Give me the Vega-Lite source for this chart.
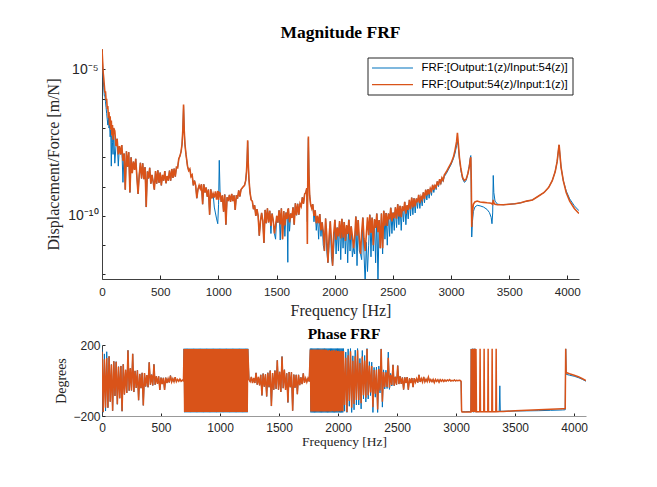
{
"$schema":"https://vega.github.io/schema/vega-lite/v6.json",
"background":"white",
"padding":{"left":45,"top":23,"right":5,"bottom":5},
"config":{"view":{"stroke":null},"axis":{"grid":false,"labelFlush":false,"labelOverlap":false}},
"resolve":{"scale":{"color":"independent"},"legend":{"color":"independent"}},
"spacing":7,
"datasets":{
"mag":[
{"f":0,"o":5e-5,"b":4e-5},{"f":5,"o":2e-5,"b":1.6e-5},{"f":10,"o":7.9e-6,"b":5e-6},{"f":15,"o":5e-6,"b":2.5e-6},{"f":20,"o":2.8e-6,"b":1.26e-6},{"f":25,"o":1.6e-6,"b":1.26e-6},{"f":30,"o":1.8e-6,"b":7.9e-7},{"f":35,"o":8.9e-7,"b":5e-7},{"f":40,"o":1e-6,"b":3.2e-7},{"f":45,"o":4.5e-7,"b":2e-7},{"f":50,"o":5.6e-7,"b":1.26e-7},{"f":55,"o":2.2e-7,"b":2.2e-7},{"f":60,"o":3.5e-7,"b":1e-7},{"f":65,"o":1.26e-7,"b":1.26e-7},{"f":70,"o":2.5e-7,"b":5e-8},{"f":75,"o":8.9e-8,"b":8.9e-8},{"f":80,"o":1.8e-7,"b":5e-9},{"f":85,"o":5.6e-8,"b":5.6e-8},{"f":90,"o":1.26e-7,"b":3.2e-8},{"f":95,"o":4e-8,"b":1.26e-8},{"f":100,"o":1e-7,"b":1e-7},
{"f":110,"o":7.9e-8,"b":6.3e-9},{"f":120,"o":2.4e-8,"b":2.4e-8},{"f":130,"o":4.3e-8,"b":4.3e-8},{"f":140,"o":1.26e-8,"b":5e-9},{"f":150,"o":2.4e-8,"b":2.4e-8},{"f":160,"o":1.26e-8,"b":1.26e-8},{"f":170,"o":2.6e-8,"b":2.6e-8},{"f":180,"o":7.6e-9,"b":1.4e-9},{"f":190,"o":1.35e-8,"b":1.35e-8},{"f":200,"o":7.9e-10,"b":7.9e-10},
{"f":210,"o":1.6e-8,"b":1.6e-8},{"f":220,"o":4.8e-9,"b":4.8e-9},{"f":230,"o":1.5e-8,"b":1.5e-8},{"f":240,"o":6.3e-10,"b":6.3e-10},{"f":250,"o":1e-8,"b":1e-8},{"f":260,"o":2.9e-9,"b":2.9e-9},{"f":270,"o":7.1e-9,"b":7.1e-9},{"f":280,"o":3.7e-9,"b":3.7e-9},{"f":290,"o":8.9e-9,"b":8.9e-9},{"f":300,"o":2.1e-9,"b":2.1e-9},
{"f":310,"o":5.6e-10,"b":5.6e-10},{"f":320,"o":2.5e-9,"b":2.5e-9},{"f":330,"o":6.5e-9,"b":6.5e-9},{"f":340,"o":1.9e-9,"b":1.9e-9},{"f":350,"o":6.3e-9,"b":6.3e-9},{"f":360,"o":1.8e-9,"b":1.8e-9},{"f":370,"o":4.6e-9,"b":4.6e-9},{"f":380,"o":2e-10,"b":2e-10},{"f":390,"o":3.3e-9,"b":3.3e-9},{"f":400,"o":1.9e-9,"b":1.9e-9},
{"f":410,"o":4.4e-9,"b":4.4e-9},{"f":420,"o":1.26e-9,"b":1.26e-9},{"f":430,"o":2.5e-9,"b":2.5e-9},{"f":440,"o":1.45e-9,"b":1.45e-9},{"f":450,"o":7.9e-10,"b":7.9e-10},{"f":460,"o":3.4e-9,"b":3.4e-9},{"f":470,"o":1.26e-9,"b":1.26e-9},{"f":480,"o":3.6e-9,"b":3.6e-9},{"f":490,"o":1.35e-9,"b":1.35e-9},{"f":500,"o":3e-9,"b":3e-9},
{"f":510,"o":1.1e-9,"b":1.1e-9},{"f":520,"o":2.5e-9,"b":2.5e-9},{"f":530,"o":1.6e-9,"b":1.6e-9},{"f":540,"o":3.4e-9,"b":3.4e-9},{"f":550,"o":1.3e-9,"b":1.3e-9},{"f":560,"o":2.3e-9,"b":2.3e-9},{"f":570,"o":1.6e-9,"b":1.6e-9},{"f":580,"o":3.5e-9,"b":3.5e-9},{"f":590,"o":1.6e-9,"b":1.6e-9},{"f":600,"o":4e-9,"b":4e-9},
{"f":610,"o":2e-9,"b":2e-9},{"f":620,"o":4.1e-9,"b":4.1e-9},{"f":630,"o":2.2e-9,"b":2.2e-9},{"f":640,"o":4.6e-9,"b":4.6e-9},{"f":650,"o":4.4e-9,"b":4.4e-9},{"f":660,"o":8.9e-9,"b":8.9e-9},{"f":670,"o":1.1e-8,"b":1.1e-8},{"f":680,"o":1.6e-8,"b":1.6e-8},{"f":688,"o":2.8e-8,"b":2.8e-8},{"f":695,"o":8.9e-8,"b":8.9e-8},{"f":701,"o":6.3e-7,"b":5.6e-7},{"f":707,"o":7.9e-8,"b":7.9e-8},{"f":713,"o":2.8e-8,"b":2.8e-8},{"f":722,"o":1.26e-8,"b":1.26e-8},{"f":735,"o":5e-9,"b":5e-9},{"f":745,"o":3.5e-9,"b":3.5e-9},
{"f":755,"o":4e-9,"b":4e-9},{"f":765,"o":2.2e-9,"b":2.2e-9},{"f":775,"o":2.5e-9,"b":2.5e-9},{"f":785,"o":1.1e-9,"b":1.1e-9},{"f":795,"o":1.6e-9,"b":1.6e-9},{"f":805,"o":1.1e-9,"b":1.1e-9},{"f":815,"o":4e-10,"b":4e-10},{"f":825,"o":8.1e-10,"b":8.1e-10},{"f":835,"o":1.1e-9,"b":1.1e-9},{"f":845,"o":8.5e-10,"b":8.5e-10},
{"f":855,"o":1.2e-9,"b":1.2e-9},{"f":865,"o":2.5e-10,"b":2.5e-10},{"f":875,"o":1.2e-9,"b":1.2e-9},{"f":885,"o":6.3e-10,"b":6.3e-10},{"f":895,"o":9.3e-10,"b":9.3e-10},{"f":905,"o":4.5e-10,"b":4.5e-10},{"f":915,"o":7.9e-10,"b":7.9e-10},{"f":925,"o":1.1e-10,"b":1.1e-10},{"f":935,"o":8.1e-10,"b":8.1e-10},{"f":945,"o":4e-10,"b":4e-10},
{"f":955,"o":5.8e-10,"b":5.8e-10},{"f":965,"o":4.2e-10,"b":2e-10},{"f":975,"o":6.9e-10,"b":1.26e-10},{"f":985,"o":3.6e-10,"b":7.9e-11},{"f":995,"o":7.1e-10,"b":5.4e-11},{"f":1002,"o":3.5e-10,"b":2.5e-10},{"f":1008,"o":6.3e-10,"b":7.9e-9},{"f":1015,"o":6e-10,"b":6e-10},{"f":1025,"o":3e-10,"b":3e-10},{"f":1035,"o":5e-10,"b":5e-10},
{"f":1045,"o":1.4e-10,"b":1.4e-10},{"f":1055,"o":5.4e-10,"b":5.4e-10},{"f":1065,"o":5e-11,"b":5e-11},{"f":1075,"o":4.3e-10,"b":4.3e-10},{"f":1085,"o":3.2e-10,"b":3.2e-10},{"f":1095,"o":5.2e-10,"b":5.2e-10},{"f":1105,"o":3e-10,"b":3e-10},{"f":1115,"o":5.6e-10,"b":5.6e-10},{"f":1125,"o":3.2e-10,"b":3.2e-10},{"f":1135,"o":5e-10,"b":5e-10},
{"f":1145,"o":1.6e-10,"b":1.6e-10},{"f":1155,"o":5.1e-10,"b":5.1e-10},{"f":1165,"o":3.9e-10,"b":3.9e-10},{"f":1175,"o":7.4e-10,"b":7.4e-10},{"f":1185,"o":4.6e-10,"b":4.6e-10},{"f":1195,"o":7.9e-10,"b":7.9e-10},{"f":1205,"o":8.9e-10,"b":8.9e-10},{"f":1215,"o":1e-9,"b":1e-9},{"f":1225,"o":1.1e-9,"b":1.1e-9},{"f":1235,"o":1.6e-9,"b":1.6e-9},
{"f":1242,"o":3.2e-9,"b":3.2e-9},{"f":1247,"o":7.9e-9,"b":7.9e-9},{"f":1252,"o":3.8e-8,"b":3.5e-8},{"f":1257,"o":6.3e-9,"b":6.3e-9},{"f":1263,"o":1.8e-9,"b":1.8e-9},{"f":1272,"o":6.3e-10,"b":6.3e-10},{"f":1282,"o":3.5e-10,"b":3.5e-10},
{"f":1292,"o":3.2e-10,"b":3.2e-10},{"f":1302,"o":1.7e-10,"b":1.7e-10},{"f":1312,"o":2.3e-10,"b":2.3e-10},{"f":1322,"o":1e-10,"b":1e-10},{"f":1332,"o":1.7e-10,"b":1.7e-10},{"f":1342,"o":1e-10,"b":1e-10},{"f":1352,"o":2.1e-11,"b":2.1e-11},{"f":1362,"o":6.5e-11,"b":6.5e-11},{"f":1372,"o":1.26e-10,"b":1.26e-10},{"f":1382,"o":6.9e-11,"b":6.9e-11},
{"f":1392,"o":1.2e-11,"b":1.2e-11},{"f":1402,"o":1.6e-10,"b":1.6e-10},{"f":1412,"o":5.6e-11,"b":5.6e-11},{"f":1422,"o":1.8e-10,"b":1.8e-10},{"f":1432,"o":6e-11,"b":6e-11},{"f":1442,"o":1.5e-10,"b":1.5e-10},{"f":1452,"o":4.5e-11,"b":2.5e-11},{"f":1462,"o":1.2e-10,"b":1.2e-10},{"f":1472,"o":6.8e-11,"b":6.8e-11},{"f":1482,"o":2.5e-11,"b":2.5e-11},
{"f":1492,"o":4.8e-11,"b":1.6e-11},{"f":1502,"o":1e-10,"b":1e-10},{"f":1512,"o":5.9e-11,"b":5.9e-11},{"f":1522,"o":1.55e-10,"b":1.55e-10},{"f":1532,"o":5.1e-11,"b":1.5e-11},{"f":1542,"o":1.8e-10,"b":1.8e-10},{"f":1552,"o":1.6e-11,"b":1.6e-11},{"f":1562,"o":1.45e-10,"b":1.45e-10},{"f":1572,"o":4.7e-11,"b":2e-11},{"f":1582,"o":1.3e-10,"b":1.3e-10},
{"f":1592,"o":7.8e-11,"b":7.8e-11},{"f":1597,"o":1.6e-10,"b":2.6e-12},{"f":1602,"o":1.8e-10,"b":1.8e-10},{"f":1612,"o":6e-11,"b":3e-11},{"f":1622,"o":1.2e-10,"b":1.2e-10},{"f":1632,"o":8.5e-11,"b":8.5e-11},{"f":1642,"o":1.95e-10,"b":1.95e-10},{"f":1652,"o":5e-11,"b":5e-11},{"f":1662,"o":2.7e-10,"b":2.7e-10},{"f":1672,"o":1.05e-10,"b":1.05e-10},
{"f":1682,"o":2.6e-10,"b":2.6e-10},{"f":1692,"o":1.1e-10,"b":1.1e-10},{"f":1702,"o":2.6e-10,"b":2.6e-10},{"f":1712,"o":2.1e-10,"b":2.1e-10},{"f":1722,"o":4.3e-10,"b":4.3e-10},{"f":1732,"o":2.6e-10,"b":2.6e-10},{"f":1742,"o":5.6e-10,"b":5.6e-10},{"f":1752,"o":6.3e-10,"b":6.3e-10},{"f":1760,"o":8.9e-10,"b":8.9e-10},{"f":1765,"o":1.1e-11,"b":6.3e-11},
{"f":1769,"o":2.5e-9,"b":2.5e-9},{"f":1774,"o":5.1e-8,"b":4.5e-8},{"f":1779,"o":2.5e-9,"b":2.5e-9},{"f":1785,"o":5e-10,"b":5e-10},{"f":1793,"o":2.5e-10,"b":2.5e-10},{"f":1803,"o":1.8e-10,"b":1.8e-10},
{"f":1812,"o":2.5e-10,"b":2.5e-10},{"f":1822,"o":1e-10,"b":6.3e-11},{"f":1832,"o":1.55e-10,"b":1.55e-10},{"f":1842,"o":5.6e-11,"b":3.2e-11},{"f":1852,"o":1e-10,"b":1e-10},{"f":1862,"o":5.6e-11,"b":1.6e-11},{"f":1872,"o":1.15e-10,"b":1.15e-10},{"f":1882,"o":3.2e-11,"b":2e-11},{"f":1892,"o":6e-11,"b":6e-11},{"f":1902,"o":3e-11,"b":1e-11},
{"f":1912,"o":6.3e-12,"b":6.3e-12},{"f":1922,"o":8.1e-11,"b":8.1e-11},{"f":1932,"o":2.2e-11,"b":6.3e-12},{"f":1942,"o":2.5e-12,"b":2.5e-12},{"f":1952,"o":2e-11,"b":1e-11},{"f":1962,"o":6.5e-11,"b":6.5e-11},{"f":1972,"o":1.5e-11,"b":4e-12},{"f":1982,"o":2e-12,"b":2e-12},{"f":1992,"o":2.5e-11,"b":7.9e-12},{"f":2002,"o":7.3e-11,"b":7.3e-11},
{"f":2012,"o":1.55e-11,"b":5e-12},{"f":2022,"o":4e-11,"b":4e-11},{"f":2032,"o":2e-11,"b":6.3e-12},{"f":2042,"o":6.6e-11,"b":6.6e-11},{"f":2052,"o":1.7e-11,"b":3.2e-12},{"f":2062,"o":7.9e-11,"b":7.9e-11},{"f":2072,"o":1.8e-11,"b":7.9e-12},{"f":2082,"o":6.2e-11,"b":6.2e-11},{"f":2092,"o":1.4e-11,"b":5e-12},{"f":2102,"o":4.8e-11,"b":4.8e-11},
{"f":2112,"o":2.4e-11,"b":2.5e-12},{"f":2122,"o":7.4e-11,"b":7.4e-11},{"f":2132,"o":1.55e-11,"b":6.3e-12},{"f":2142,"o":4.4e-11,"b":4.4e-11},{"f":2152,"o":2.1e-11,"b":4e-12},{"f":2162,"o":7.9e-12,"b":7.9e-12},{"f":2172,"o":1.8e-11,"b":5e-12},{"f":2182,"o":9.5e-11,"b":9.5e-11},{"f":2192,"o":2.1e-11,"b":2e-12},{"f":2202,"o":7.2e-11,"b":7.2e-11},
{"f":2212,"o":1.6e-11,"b":6.3e-12},{"f":2222,"o":5e-12,"b":5e-12},{"f":2232,"o":2.7e-11,"b":3.2e-12},{"f":2242,"o":8.7e-11,"b":8.7e-11},{"f":2252,"o":1.7e-11,"b":5e-12},{"f":2262,"o":6.3e-12,"b":5e-13},{"f":2272,"o":2.3e-11,"b":1.26e-11},{"f":2282,"o":8.9e-11,"b":1.26e-12},{"f":2292,"o":2.2e-11,"b":1e-11},{"f":2302,"o":1.1e-10,"b":1.1e-10},
{"f":2312,"o":2.6e-11,"b":4e-12},{"f":2322,"o":8.7e-11,"b":8.7e-11},{"f":2332,"o":1e-11,"b":6.3e-12},{"f":2342,"o":7.6e-11,"b":7.6e-11},{"f":2352,"o":3.9e-11,"b":2.5e-12},{"f":2362,"o":1.2e-10,"b":1.2e-10},{"f":2372,"o":2.8e-11,"b":5e-13},{"f":2382,"o":7.2e-11,"b":7.2e-11},{"f":2392,"o":7.9e-12,"b":7.9e-12},{"f":2402,"o":1.2e-10,"b":1.2e-10},
{"f":2412,"o":7.9e-12,"b":5e-12},{"f":2422,"o":1.5e-10,"b":1.5e-10},{"f":2432,"o":4.6e-11,"b":1.6e-11},{"f":2442,"o":1.26e-10,"b":1.26e-10},{"f":2452,"o":4.5e-11,"b":1e-11},{"f":2462,"o":1.2e-10,"b":1.2e-10},{"f":2472,"o":7.6e-11,"b":2e-11},{"f":2482,"o":1.9e-10,"b":1.9e-10},{"f":2492,"o":6.5e-11,"b":2.5e-11},{"f":2502,"o":1.3e-10,"b":1.3e-10},
{"f":2512,"o":8.3e-11,"b":3.2e-11},{"f":2522,"o":1.95e-10,"b":1.95e-10},{"f":2532,"o":8.1e-11,"b":4e-11},{"f":2542,"o":2.5e-10,"b":2.5e-10},{"f":2552,"o":9.5e-11,"b":5e-11},{"f":2562,"o":2.2e-10,"b":2.2e-10},{"f":2572,"o":9.1e-11,"b":3.2e-11},{"f":2582,"o":2.1e-10,"b":2.1e-10},{"f":2592,"o":1.45e-10,"b":6.3e-11},{"f":2602,"o":3e-10,"b":3e-10},
{"f":2612,"o":1.2e-10,"b":5e-11},{"f":2622,"o":2.3e-10,"b":2.3e-10},{"f":2632,"o":1.6e-10,"b":7.9e-11},{"f":2642,"o":3.5e-10,"b":3.5e-10},{"f":2652,"o":1.7e-10,"b":1e-10},{"f":2662,"o":4.2e-10,"b":4.2e-10},{"f":2672,"o":1.95e-10,"b":1.1e-10},{"f":2682,"o":4e-10,"b":4e-10},{"f":2692,"o":2.1e-10,"b":1.26e-10},{"f":2702,"o":3.9e-10,"b":3.9e-10},
{"f":2712,"o":2.9e-10,"b":1.8e-10},{"f":2722,"o":5.2e-10,"b":5.2e-10},{"f":2732,"o":2.75e-10,"b":1.8e-10},{"f":2742,"o":4.6e-10,"b":4.6e-10},{"f":2752,"o":3.6e-10,"b":2.2e-10},{"f":2762,"o":6.3e-10,"b":6.3e-10},{"f":2772,"o":3.8e-10,"b":2.8e-10},{"f":2782,"o":7.8e-10,"b":7.8e-10},{"f":2792,"o":5e-10,"b":3.5e-10},{"f":2802,"o":8.1e-10,"b":8.1e-10},
{"f":2812,"o":5.4e-10,"b":4e-10},{"f":2822,"o":8.7e-10,"b":8.7e-10},{"f":2832,"o":7.1e-10,"b":5e-10},{"f":2842,"o":1.15e-9,"b":1.15e-9},{"f":2852,"o":7.8e-10,"b":6.3e-10},{"f":2862,"o":1.1e-9,"b":1.1e-9},{"f":2872,"o":9.5e-10,"b":7.9e-10},{"f":2882,"o":1.5e-9,"b":1.5e-9},{"f":2892,"o":1.1e-9,"b":1e-9},{"f":2902,"o":1.8e-9,"b":1.8e-9},
{"f":2912,"o":1.35e-9,"b":1.2e-9},{"f":2922,"o":2e-9,"b":2e-9},{"f":2932,"o":1.65e-9,"b":1.5e-9},{"f":2942,"o":2.5e-9,"b":2.2e-9},{"f":2960,"o":3.2e-9,"b":2.8e-9},{"f":2980,"o":4.5e-9,"b":4e-9},{"f":3000,"o":6.3e-9,"b":5.6e-9},{"f":3020,"o":1e-8,"b":8.9e-9},{"f":3035,"o":1.8e-8,"b":1.4e-8},{"f":3048,"o":3.5e-8,"b":2.5e-8},
{"f":3055,"o":6.9e-8,"b":3.5e-8},{"f":3062,"o":3.2e-8,"b":2.5e-8},{"f":3072,"o":1e-8,"b":8.9e-9},{"f":3085,"o":4e-9,"b":3.5e-9},{"f":3100,"o":2e-9,"b":1.8e-9},{"f":3115,"o":1.6e-9,"b":1.4e-9},{"f":3130,"o":1.8e-9,"b":1.6e-9},{"f":3145,"o":2.8e-9,"b":2.8e-9},{"f":3158,"o":5e-9,"b":5.6e-9},{"f":3166,"o":8.9e-9,"b":1e-8},
{"f":3170,"o":1e-8,"b":1.15e-8},{"f":3174,"o":1.6e-9,"b":6.3e-10},{"f":3178,"o":4.2e-11,"b":1.9e-11},{"f":3184,"o":1.26e-10,"b":6.3e-11},{"f":3192,"o":2.5e-10,"b":1.4e-10},{"f":3205,"o":3e-10,"b":2e-10},{"f":3225,"o":3.2e-10,"b":2.3e-10},{"f":3250,"o":3e-10,"b":2.2e-10},{"f":3280,"o":2.9e-10,"b":2e-10},{"f":3310,"o":2.8e-10,"b":1.66e-10},
{"f":3330,"o":2.75e-10,"b":1.3e-10},{"f":3345,"o":2.7e-10,"b":8.9e-11},{"f":3352,"o":2.6e-10,"b":5.4e-11},{"f":3358,"o":2.5e-10,"b":1.26e-10},{"f":3363,"o":3.5e-10,"b":2.4e-9},{"f":3368,"o":2.8e-10,"b":6.3e-10},{"f":3378,"o":2.5e-10,"b":3.2e-10},{"f":3400,"o":2.4e-10,"b":2.5e-10},{"f":3450,"o":2.4e-10,"b":2.4e-10},{"f":3500,"o":2.5e-10,"b":2.5e-10},
{"f":3550,"o":2.6e-10,"b":2.6e-10},{"f":3600,"o":2.8e-10,"b":2.8e-10},{"f":3650,"o":3.2e-10,"b":3.2e-10},{"f":3700,"o":3.5e-10,"b":3.5e-10},{"f":3750,"o":4.7e-10,"b":4.7e-10},{"f":3800,"o":6.3e-10,"b":6.3e-10},{"f":3840,"o":9.5e-10,"b":9.5e-10},{"f":3870,"o":1.6e-9,"b":1.6e-9},{"f":3895,"o":3.2e-9,"b":3.2e-9},{"f":3912,"o":7.1e-9,"b":7.1e-9},
{"f":3922,"o":1.6e-8,"b":1.6e-8},{"f":3929,"o":2.7e-8,"b":2.6e-8},{"f":3936,"o":1.26e-8,"b":1.26e-8},{"f":3946,"o":4.5e-9,"b":4.5e-9},{"f":3965,"o":1.6e-9,"b":1.6e-9},{"f":3990,"o":6.3e-10,"b":7.1e-10},{"f":4020,"o":3.2e-10,"b":3.8e-10},{"f":4060,"o":1.8e-10,"b":2.2e-10},{"f":4100,"o":1.2e-10,"b":1.5e-10}
],
"phase":[
{"f":0,"p":162,"q":175},{"f":10,"p":-178,"q":-179},{"f":20,"p":120,"q":150},{"f":30,"p":-154,"q":-172},{"f":40,"p":126,"q":162},{"f":50,"p":-153,"q":-153},{"f":60,"p":136,"q":136},{"f":70,"p":-119,"q":-119},{"f":80,"p":90,"q":90},{"f":90,"p":-171,"q":-171},
{"f":100,"p":108,"q":108},{"f":110,"p":-87,"q":-87},{"f":120,"p":106,"q":106},{"f":130,"p":-134,"q":-134},{"f":140,"p":78,"q":78},{"f":150,"p":-100,"q":-100},{"f":160,"p":82,"q":82},{"f":170,"p":-173,"q":-173},{"f":180,"p":91,"q":91},{"f":190,"p":-79,"q":-79},
{"f":200,"p":60,"q":60},{"f":210,"p":-70,"q":-70},{"f":220,"p":170,"q":170},{"f":230,"p":-57,"q":-57},{"f":240,"p":69,"q":69},{"f":250,"p":-56,"q":-56},{"f":260,"p":150,"q":150},{"f":270,"p":-65,"q":-65},{"f":280,"p":54,"q":54},{"f":290,"p":-42,"q":-42},
{"f":300,"p":58,"q":58},{"f":310,"p":-111,"q":-111},{"f":320,"p":37,"q":37},{"f":330,"p":-43,"q":-43},{"f":340,"p":43,"q":43},{"f":350,"p":-140,"q":-140},{"f":360,"p":42,"q":42},{"f":370,"p":-34,"q":-34},{"f":380,"p":30,"q":30},{"f":390,"p":-38,"q":-38},
{"f":400,"p":102,"q":102},{"f":410,"p":-24,"q":-24},{"f":420,"p":33,"q":33},{"f":430,"p":-28,"q":-28},{"f":440,"p":91,"q":91},{"f":450,"p":-24,"q":-24},{"f":460,"p":24,"q":24},{"f":470,"p":-19,"q":-19},{"f":480,"p":23,"q":23},{"f":490,"p":-53,"q":-53},
{"f":500,"p":16,"q":16},{"f":510,"p":-20,"q":-20},{"f":520,"p":15,"q":15},{"f":530,"p":-53,"q":-53},{"f":540,"p":16,"q":16},{"f":550,"p":-14,"q":-14},{"f":560,"p":10,"q":10},{"f":570,"p":-11,"q":-11},{"f":580,"p":28,"q":28},{"f":590,"p":-8,"q":-8},
{"f":600,"p":10,"q":10},{"f":610,"p":-7,"q":-7},{"f":620,"p":19,"q":19},{"f":630,"p":-7,"q":-7},{"f":640,"p":6,"q":6},{"f":650,"p":-4,"q":-4},{"f":660,"p":8,"q":8},{"f":670,"p":-4,"q":-4},{"f":680,"p":2,"q":2},{"f":690,"p":-2,"q":-2},
{"f":695,"p":177,"q":179},{"f":700,"p":-177,"q":-179},{"f":705,"p":177,"q":179},{"f":710,"p":-177,"q":-179},{"f":715,"p":177,"q":179},{"f":720,"p":-177,"q":-179},{"f":725,"p":177,"q":179},{"f":730,"p":-177,"q":-179},{"f":735,"p":177,"q":179},{"f":740,"p":-177,"q":-179},
{"f":745,"p":177,"q":179},{"f":750,"p":-177,"q":-179},{"f":755,"p":177,"q":179},{"f":760,"p":-177,"q":-179},{"f":765,"p":177,"q":179},{"f":770,"p":-177,"q":-179},{"f":775,"p":177,"q":179},{"f":780,"p":-177,"q":-179},{"f":785,"p":177,"q":179},{"f":790,"p":-177,"q":-179},
{"f":795,"p":177,"q":179},{"f":800,"p":-177,"q":-179},{"f":805,"p":177,"q":179},{"f":810,"p":-177,"q":-179},{"f":815,"p":177,"q":179},{"f":820,"p":-177,"q":-179},{"f":825,"p":177,"q":179},{"f":830,"p":-177,"q":-179},{"f":835,"p":177,"q":179},{"f":840,"p":-177,"q":-179},
{"f":845,"p":177,"q":179},{"f":850,"p":-177,"q":-179},{"f":855,"p":177,"q":179},{"f":860,"p":-177,"q":-179},{"f":865,"p":177,"q":179},{"f":870,"p":-177,"q":-179},{"f":875,"p":177,"q":179},{"f":880,"p":-177,"q":-179},{"f":885,"p":177,"q":179},{"f":890,"p":-177,"q":-179},
{"f":895,"p":177,"q":179},{"f":900,"p":-177,"q":-179},{"f":905,"p":177,"q":179},{"f":910,"p":-177,"q":-179},{"f":915,"p":177,"q":179},{"f":920,"p":-177,"q":-179},{"f":925,"p":177,"q":179},{"f":930,"p":-177,"q":-179},{"f":935,"p":177,"q":179},{"f":940,"p":-177,"q":-179},
{"f":945,"p":177,"q":179},{"f":950,"p":-177,"q":-179},{"f":955,"p":177,"q":179},{"f":960,"p":-177,"q":-179},{"f":965,"p":177,"q":179},{"f":970,"p":-177,"q":-179},{"f":975,"p":177,"q":179},{"f":980,"p":-177,"q":-179},{"f":985,"p":177,"q":179},{"f":990,"p":-177,"q":-179},
{"f":995,"p":177,"q":179},{"f":1000,"p":-177,"q":-179},{"f":1005,"p":177,"q":179},{"f":1010,"p":-177,"q":-179},{"f":1015,"p":177,"q":179},{"f":1020,"p":-177,"q":-179},{"f":1025,"p":177,"q":179},{"f":1030,"p":-177,"q":-179},{"f":1035,"p":177,"q":179},{"f":1040,"p":-177,"q":-179},
{"f":1045,"p":177,"q":179},{"f":1050,"p":-177,"q":-179},{"f":1055,"p":177,"q":179},{"f":1060,"p":-177,"q":-179},{"f":1065,"p":177,"q":179},{"f":1070,"p":-177,"q":-179},{"f":1075,"p":177,"q":179},{"f":1080,"p":-177,"q":-179},{"f":1085,"p":177,"q":179},{"f":1090,"p":-177,"q":-179},
{"f":1095,"p":177,"q":179},{"f":1100,"p":-177,"q":-179},{"f":1105,"p":177,"q":179},{"f":1110,"p":-177,"q":-179},{"f":1115,"p":177,"q":179},{"f":1120,"p":-177,"q":-179},{"f":1125,"p":177,"q":179},{"f":1130,"p":-177,"q":-179},{"f":1135,"p":177,"q":179},{"f":1140,"p":-177,"q":-179},
{"f":1145,"p":177,"q":179},{"f":1150,"p":-177,"q":-179},{"f":1155,"p":177,"q":179},{"f":1160,"p":-177,"q":-179},{"f":1165,"p":177,"q":179},{"f":1170,"p":-177,"q":-179},{"f":1175,"p":177,"q":179},{"f":1180,"p":-177,"q":-179},{"f":1185,"p":177,"q":179},{"f":1190,"p":-177,"q":-179},
{"f":1195,"p":177,"q":179},{"f":1200,"p":-177,"q":-179},{"f":1205,"p":177,"q":179},{"f":1210,"p":-177,"q":-179},{"f":1215,"p":177,"q":179},{"f":1220,"p":-177,"q":-179},{"f":1225,"p":177,"q":179},{"f":1230,"p":-177,"q":-179},{"f":1235,"p":177,"q":179},
{"f":1245,"p":5,"q":5},{"f":1255,"p":-6,"q":-6},{"f":1265,"p":20,"q":20},{"f":1275,"p":-14,"q":-14},{"f":1285,"p":14,"q":14},{"f":1295,"p":-14,"q":-14},{"f":1305,"p":43,"q":43},{"f":1315,"p":-23,"q":-23},{"f":1325,"p":20,"q":20},{"f":1335,"p":-27,"q":-27},
{"f":1345,"p":32,"q":32},{"f":1355,"p":-84,"q":-84},{"f":1365,"p":39,"q":39},{"f":1375,"p":-35,"q":-35},{"f":1385,"p":35,"q":35},{"f":1395,"p":-90,"q":-90},{"f":1405,"p":44,"q":44},{"f":1415,"p":-38,"q":-38},{"f":1425,"p":56,"q":56},{"f":1435,"p":-144,"q":-144},
{"f":1445,"p":42,"q":42},{"f":1455,"p":-52,"q":-52},{"f":1465,"p":56,"q":56},{"f":1475,"p":-47,"q":-47},{"f":1485,"p":114,"q":114},{"f":1495,"p":-52,"q":-52},{"f":1505,"p":49,"q":49},{"f":1515,"p":-64,"q":-64},{"f":1525,"p":135,"q":135},{"f":1535,"p":-43,"q":-43},
{"f":1545,"p":61,"q":61},{"f":1555,"p":-53,"q":-53},{"f":1565,"p":40,"q":40},{"f":1575,"p":-124,"q":-124},{"f":1585,"p":48,"q":48},{"f":1595,"p":-38,"q":-38},{"f":1605,"p":47,"q":47},{"f":1615,"p":-170,"q":-170},{"f":1625,"p":33,"q":33},{"f":1635,"p":-41,"q":-41},
{"f":1645,"p":32,"q":32},{"f":1655,"p":-77,"q":-77},{"f":1665,"p":32,"q":32},{"f":1675,"p":-26,"q":-26},{"f":1685,"p":18,"q":18},{"f":1695,"p":-20,"q":-20},{"f":1705,"p":40,"q":40},{"f":1715,"p":-13,"q":-13},{"f":1725,"p":13,"q":13},{"f":1735,"p":-9,"q":-9},
{"f":1745,"p":12,"q":12},{"f":1755,"p":-5,"q":-5},
{"f":1765,"p":175,"q":180},{"f":1770,"p":-175,"q":-180},{"f":1775,"p":175,"q":180},{"f":1780,"p":-175,"q":-180},{"f":1785,"p":175,"q":180},{"f":1790,"p":-175,"q":-180},{"f":1795,"p":175,"q":180},{"f":1800,"p":-175,"q":-180},{"f":1805,"p":175,"q":180},{"f":1810,"p":-175,"q":-180},
{"f":1815,"p":175,"q":180},{"f":1820,"p":-175,"q":-180},{"f":1825,"p":175,"q":180},{"f":1830,"p":-175,"q":-180},{"f":1835,"p":175,"q":180},{"f":1840,"p":-175,"q":-180},{"f":1845,"p":175,"q":180},{"f":1850,"p":-175,"q":-180},{"f":1855,"p":175,"q":180},{"f":1860,"p":-175,"q":-180},
{"f":1865,"p":175,"q":180},{"f":1870,"p":-175,"q":-180},{"f":1875,"p":175,"q":180},{"f":1880,"p":-175,"q":-180},{"f":1885,"p":175,"q":180},{"f":1890,"p":-175,"q":-180},{"f":1895,"p":175,"q":180},{"f":1900,"p":-175,"q":-180},{"f":1905,"p":172,"q":180},{"f":1910,"p":-175,"q":-180},
{"f":1915,"p":168,"q":180},{"f":1920,"p":-175,"q":-180},{"f":1925,"p":172,"q":180},{"f":1930,"p":-174,"q":-180},{"f":1935,"p":166,"q":180},{"f":1940,"p":-175,"q":-180},{"f":1945,"p":170,"q":180},{"f":1950,"p":-172,"q":-180},{"f":1955,"p":168,"q":180},{"f":1960,"p":-175,"q":-180},
{"f":1965,"p":172,"q":180},{"f":1970,"p":-174,"q":-180},{"f":1975,"p":165,"q":180},{"f":1980,"p":-175,"q":-180},{"f":1985,"p":170,"q":180},{"f":1990,"p":-172,"q":-180},{"f":1995,"p":166,"q":180},{"f":2000,"p":-174,"q":-180},{"f":2005,"p":168,"q":180},{"f":2010,"p":-172,"q":-180},
{"f":2015,"p":164,"q":180},{"f":2020,"p":-174,"q":-180},{"f":2025,"p":167,"q":180},{"f":2030,"p":-171,"q":-180},{"f":2035,"p":165,"q":180},{"f":2040,"p":-173,"q":-180},
{"f":2045,"p":166,"q":180},{"f":2055,"p":-138,"q":-173},{"f":2065,"p":128,"q":160},{"f":2075,"p":-178,"q":-180},{"f":2085,"p":142,"q":178},{"f":2095,"p":-116,"q":-145},{"f":2105,"p":164,"q":180},{"f":2115,"p":-153,"q":-180},{"f":2125,"p":111,"q":139},{"f":2135,"p":-132,"q":-165},
{"f":2145,"p":137,"q":171},{"f":2155,"p":-110,"q":-138},{"f":2165,"p":171,"q":180},{"f":2175,"p":-110,"q":-138},{"f":2185,"p":99,"q":124},{"f":2195,"p":-128,"q":-160},{"f":2205,"p":135,"q":169},{"f":2215,"p":-83,"q":-104},{"f":2225,"p":113,"q":141},{"f":2235,"p":-97,"q":-121},
{"f":2245,"p":178,"q":180},{"f":2255,"p":-83,"q":-104},{"f":2265,"p":85,"q":106},{"f":2275,"p":-68,"q":-85},{"f":2285,"p":82,"q":103},{"f":2295,"p":-150,"q":-180},{"f":2305,"p":59,"q":74},{"f":2315,"p":-75,"q":-94},{"f":2325,"p":61,"q":76},{"f":2335,"p":-163,"q":-180},
{"f":2345,"p":65,"q":81},{"f":2355,"p":-56,"q":-70},{"f":2365,"p":178,"q":178},{"f":2375,"p":-120,"q":-150},{"f":2385,"p":48,"q":60},{"f":2395,"p":-38,"q":-48},{"f":2405,"p":46,"q":58},{"f":2415,"p":-36,"q":-45},{"f":2425,"p":128,"q":160},{"f":2435,"p":-40,"q":-50},
{"f":2445,"p":32,"q":40},{"f":2455,"p":-25,"q":-31},{"f":2465,"p":88,"q":88},{"f":2475,"p":-29,"q":-29},{"f":2485,"p":21,"q":21},{"f":2495,"p":-24,"q":-24},{"f":2505,"p":84,"q":84},{"f":2515,"p":-20,"q":-20},{"f":2525,"p":24,"q":24},{"f":2535,"p":-19,"q":-19},
{"f":2545,"p":17,"q":17},{"f":2555,"p":-51,"q":-51},{"f":2565,"p":18,"q":18},{"f":2575,"p":-14,"q":-14},{"f":2585,"p":19,"q":19},{"f":2595,"p":-52,"q":-52},{"f":2605,"p":12,"q":12},{"f":2615,"p":-14,"q":-14},{"f":2625,"p":14,"q":14},{"f":2635,"p":-37,"q":-37},
{"f":2645,"p":13,"q":13},{"f":2655,"p":-10,"q":-10},{"f":2665,"p":10,"q":10},{"f":2675,"p":-12,"q":-12},{"f":2685,"p":32,"q":32},{"f":2695,"p":-8,"q":-8},{"f":2705,"p":11,"q":11},{"f":2715,"p":-9,"q":-9},{"f":2725,"p":20,"q":20},{"f":2735,"p":-8,"q":-8},
{"f":2745,"p":8,"q":8},{"f":2755,"p":-6,"q":-6},{"f":2765,"p":19,"q":19},{"f":2775,"p":-6,"q":-6},{"f":2785,"p":5,"q":5},{"f":2795,"p":-7,"q":-7},{"f":2805,"p":6,"q":6},{"f":2815,"p":-12,"q":-12},{"f":2825,"p":6,"q":6},{"f":2835,"p":-5,"q":-5},
{"f":2845,"p":4,"q":4},{"f":2855,"p":-10,"q":-10},{"f":2865,"p":5,"q":5},{"f":2875,"p":-4,"q":-4},{"f":2885,"p":4,"q":4},{"f":2895,"p":-6,"q":-6},{"f":2905,"p":3,"q":3},{"f":2915,"p":-4,"q":-4},{"f":2925,"p":3,"q":3},{"f":2935,"p":-2,"q":-2},
{"f":2945,"p":5,"q":5},{"f":2955,"p":-3,"q":-3},{"f":2965,"p":1,"q":1},{"f":2975,"p":-2,"q":-2},{"f":2985,"p":3,"q":3},{"f":2995,"p":-2,"q":-2},{"f":3005,"p":1,"q":1},{"f":3015,"p":-1,"q":-1},{"f":3025,"p":1,"q":1},{"f":3035,"p":0,"q":-1},
{"f":3042,"p":-5,"q":-8},{"f":3046,"p":-170,"q":-172},{"f":3050,"p":-178,"q":-176},{"f":3080,"p":-178,"q":-176},{"f":3110,"p":-178,"q":-175},{"f":3125,"p":-178,"q":-176},{"f":3128,"p":178,"q":178},{"f":3132,"p":-178,"q":-178},{"f":3140,"p":179,"q":179},{"f":3144,"p":-178,"q":-178},
{"f":3150,"p":179,"q":-177},{"f":3154,"p":-178,"q":179},{"f":3160,"p":179,"q":-178},{"f":3164,"p":-179,"q":178},{"f":3168,"p":178,"q":-178},{"f":3172,"p":-176,"q":-176},{"f":3200,"p":-176,"q":-175},{"f":3203,"p":179,"q":-175},{"f":3206,"p":-176,"q":-175},{"f":3234,"p":-176,"q":-175},
{"f":3237,"p":179,"q":-175},{"f":3240,"p":-176,"q":-175},{"f":3268,"p":-176,"q":-175},{"f":3271,"p":179,"q":-175},{"f":3274,"p":-176,"q":-175},{"f":3302,"p":-176,"q":-175},{"f":3305,"p":179,"q":-175},{"f":3308,"p":-176,"q":-175},{"f":3336,"p":-176,"q":-175},{"f":3339,"p":179,"q":-175},
{"f":3342,"p":-176,"q":-175},{"f":3365,"p":-175,"q":-175},{"f":3370,"p":-175,"q":-30},{"f":3374,"p":-175,"q":-174},{"f":3400,"p":-174,"q":-173},{"f":3500,"p":-171,"q":-172},{"f":3600,"p":-168,"q":-171},{"f":3700,"p":-165,"q":-170},{"f":3800,"p":-162,"q":-168},{"f":3900,"p":-159,"q":-166},
{"f":3924,"p":-158,"q":-165},{"f":3928,"p":179,"q":178},{"f":3932,"p":45,"q":35},{"f":3960,"p":38,"q":30},{"f":4000,"p":30,"q":24},{"f":4040,"p":20,"q":15},{"f":4070,"p":10,"q":6},{"f":4100,"p":0,"q":-4}
]
},
"vconcat":[
{
"width":477,"height":230,
"title":{"text":"Magnitude FRF","font":"Liberation Serif","fontSize":17.5,"fontWeight":"bold","color":"#000000","frame":"group","anchor":"middle","offset":8},
"data":{"name":"mag"},
"encoding":{"x":{"field":"f","type":"quantitative","scale":{"domain":[0,4100],"nice":false,"zero":false},
"axis":{"title":"Frequency [Hz]","values":[0,500,1000,1500,2000,2500,3000,3500,4000],"format":"d","labelFont":"Liberation Sans","labelFontSize":11.7,"labelColor":"#262626","labelPadding":11.5,"tickSize":-4,"tickColor":"#262626","domainColor":"#404040","titleFont":"Liberation Serif","titleFontSize":16,"titleFontWeight":"normal","titleColor":"#262626","titlePadding":4}}},
"layer":[
{"mark":{"type":"line","strokeWidth":1,"clip":true},
"encoding":{"y":{"field":"b","type":"quantitative","scale":{"type":"log","domain":[7e-13,5e-5],"nice":false},
"axis":{"title":"Displacement/Force [m/N]","values":[1e-12,1e-11,1e-10,1e-9,1e-8,1e-7,1e-6,1e-5],"labelExpr":"abs(log(datum.value)/LN10+5)<0.1 ? '10⁻⁵' : (abs(log(datum.value)/LN10+10)<0.1 ? '10⁻¹⁰' : '')","labelFont":"Liberation Sans","labelFontSize":14,"labelColor":"#262626","labelPadding":7,"tickSize":-3,"tickColor":"#262626","domainColor":"#404040","titleFont":"Liberation Serif","titleFontSize":16,"titleFontWeight":"normal","titleColor":"#262626","titlePadding":6}},
"color":{"datum":"FRF:[Output:1(z)/Input:54(z)]","type":"nominal","scale":{"domain":["FRF:[Output:1(z)/Input:54(z)]","FRF:[Output:54(z)/Input:1(z)]"],"range":["#0072BD","#D95319"]},
"legend":{"title":null,"orient":"none","legendX":265.5,"legendY":8.5,"symbolType":"M-1.09,0H6.36","symbolSize":121,"symbolStrokeWidth":1.2,"labelOffset":37,"labelExpr":"datum.label + '\u00a0\u00a0\u00a0\u00a0\u00a0\u00a0\u00a0'","labelFont":"Liberation Sans","labelFontSize":11.4,"labelColor":"#000000","strokeColor":"#262626","fillColor":"#ffffff","padding":4,"rowPadding":4.7}}}},
{"mark":{"type":"line","strokeWidth":1.6,"clip":true},
"encoding":{"y":{"field":"o","type":"quantitative","scale":{"type":"log","domain":[7e-13,5e-5],"nice":false}},
"color":{"datum":"FRF:[Output:54(z)/Input:1(z)]","type":"nominal"}}}
]
},
{
"width":484,"height":71,
"title":{"text":"Phase FRF","font":"Liberation Serif","fontSize":15.5,"fontWeight":"bold","color":"#000000","frame":"group","anchor":"middle","offset":-3},
"data":{"name":"phase"},
"encoding":{"x":{"field":"f","type":"quantitative","scale":{"domain":[0,4100],"nice":false,"zero":false},
"axis":{"title":"Frequency [Hz]","values":[0,500,1000,1500,2000,2500,3000,3500,4000],"format":"d","labelFont":"Liberation Sans","labelFontSize":12,"labelColor":"#262626","labelPadding":9.7,"tickSize":-3,"tickColor":"#262626","domainColor":"#999999","titleFont":"Liberation Serif","titleFontSize":13.5,"titleFontWeight":"normal","titleColor":"#262626","titlePadding":1}}},
"layer":[
{"mark":{"type":"line","strokeWidth":1,"clip":true,"color":"#0072BD"},
"encoding":{"y":{"field":"q","type":"quantitative","scale":{"domain":[-200,200],"nice":false},
"axis":{"title":"Degrees","values":[-200,0,200],"labelFont":"Liberation Sans","labelFontSize":12,"labelColor":"#262626","labelPadding":5,"tickSize":-3,"tickColor":"#262626","domainColor":"#404040","titleFont":"Liberation Serif","titleFontSize":13.9,"titleFontWeight":"normal","titleColor":"#262626","titlePadding":4}}}},
{"mark":{"type":"line","strokeWidth":1.5,"clip":true,"color":"#D95319"},
"encoding":{"y":{"field":"p","type":"quantitative","scale":{"domain":[-200,200],"nice":false}}}}
]
}
]
}
